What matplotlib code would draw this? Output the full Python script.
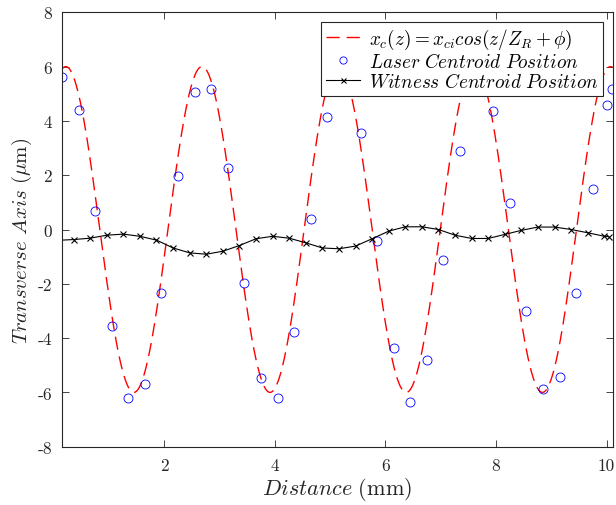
import numpy as np
import matplotlib
matplotlib.use("Agg")
import matplotlib.pyplot as plt

plt.rcParams['mathtext.fontset'] = 'cm'
plt.rcParams['axes.unicode_minus'] = False

# Laser centroid positions (mm, um)
laser_z = [0.15, 0.45, 0.75, 1.05, 1.35, 1.65, 1.95, 2.25, 2.55, 2.85,
           3.15, 3.45, 3.75, 4.05, 4.35, 4.65, 4.95, 5.25, 5.55, 5.85,
           6.15, 6.45, 6.75, 7.05, 7.35, 7.65, 7.95, 8.25, 8.55, 8.85,
           9.15, 9.45, 9.75, 10.01, 10.09]
laser_x = [5.62, 4.39, 0.68, -3.54, -6.21, -5.68, -2.34, 1.97, 5.08, 5.19,
           2.28, -1.98, -5.48, -6.22, -3.77, 0.37, 4.16, 5.9, 3.54, -0.41,
           -4.38, -6.34, -4.82, -1.13, 2.89, 5.8, 4.36, 0.98, -3.01, -5.86,
           -5.43, -2.35, 1.51, 4.60, 5.16]

# Witness centroid positions
witness_z = [0.06, 0.36, 0.66, 0.96, 1.26, 1.56, 1.86, 2.16, 2.46, 2.76,
             3.06, 3.36, 3.66, 3.96, 4.26, 4.56, 4.86, 5.16, 5.46, 5.76,
             6.06, 6.36, 6.66, 6.96, 7.26, 7.56, 7.86, 8.16, 8.46, 8.76,
             9.06, 9.36, 9.66, 9.96, 10.04]
witness_x = [-0.40, -0.37, -0.32, -0.21, -0.17, -0.25, -0.39, -0.68, -0.86, -0.91,
             -0.80, -0.59, -0.34, -0.25, -0.32, -0.49, -0.68, -0.71, -0.61, -0.34,
             -0.06, 0.10, 0.10, 0.00, -0.21, -0.33, -0.33, -0.18, -0.03, 0.09,
             0.09, 0.00, -0.12, -0.25, -0.26]

# fitted model x_c(z) = x_ci cos(z/Z_R + phi)
x_ci = 6.0
Z_R = 0.392
phi = -0.559

xticks = [2, 4, 6, 8, 10]
yticks = [-8, -6, -4, -2, 0, 2, 4, 6, 8]

z = np.linspace(0.146, 10.11, 600)
fit = x_ci * np.cos(z / Z_R + phi)

fig = plt.figure(figsize=(6.16, 5.06), dpi=100)
ax = fig.add_axes([0.1002, 0.1152, 0.8944, 0.8585])

gray = '#262626'
ax.plot(z, fit, color='red', lw=1.0, dashes=(9.5, 5),
        label=r'$x_c(z) = x_{ci}cos(z/Z_R + \phi)$')
ax.plot(laser_z, laser_x, 'o', mfc='none', mec='blue', ms=6.5, mew=0.6,
        label=r'$Laser\ Centroid\ Position$')
ax.plot(witness_z, witness_x, '-x', color='black', lw=0.8, ms=4.5, mew=0.8,
        label=r'$Witness\ Centroid\ Position$')

ax.set_xlim(0.146, 10.11)
ax.set_ylim(-8, 8)
ax.set_xticks(xticks)
ax.set_yticks(yticks)
ax.set_xticklabels([str(t) for t in xticks], family='cmr10', fontsize=12.5, color=gray)
ax.set_yticklabels([str(t) for t in yticks], family='cmr10', fontsize=12.5, color=gray)
ax.tick_params(direction='in', top=True, right=True, length=5, width=0.6,
               color=gray)
ax.tick_params(axis='x', pad=8)
ax.tick_params(axis='y', pad=7)
for s in ax.spines.values():
    s.set_color(gray)
    s.set_linewidth(0.8)

ax.set_xlabel(r'$Distance\ (\mathrm{mm})$', fontsize=16, color=gray, labelpad=1)
ax.set_ylabel(r'$Transverse\ Axis\ (\mu\mathrm{m})$', fontsize=15, color=gray)
ax.yaxis.set_label_coords(-0.05, 0.475)

leg = ax.legend(loc='upper right', fontsize=13.8, fancybox=False, framealpha=1,
                edgecolor=gray, handlelength=1.8, handletextpad=0.45,
                labelspacing=0.05, borderpad=0.25, borderaxespad=0.5,
                markerscale=0.8)
leg.get_frame().set_linewidth(0.8)

fig.savefig('out.png', dpi=100)
